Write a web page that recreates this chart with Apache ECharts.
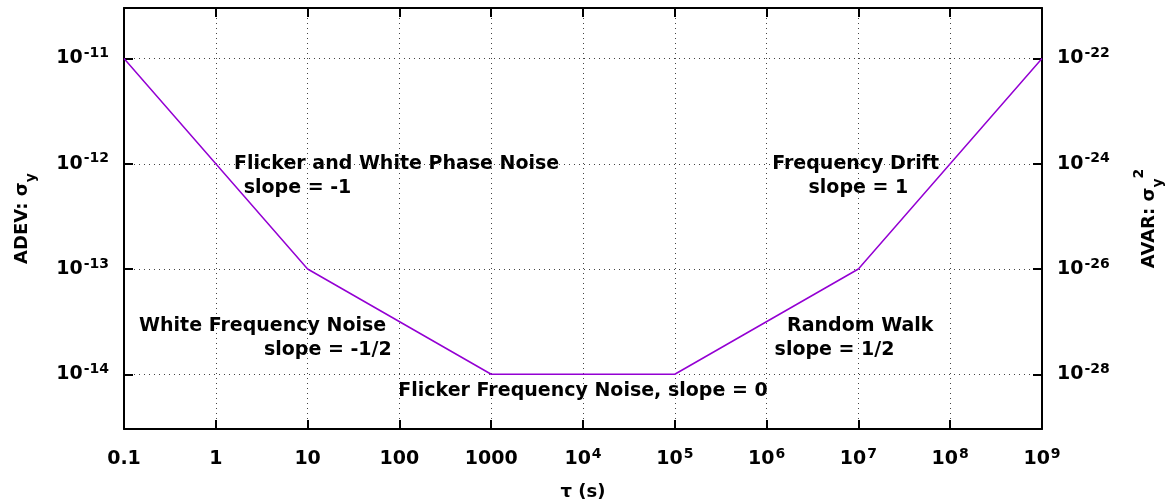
<!DOCTYPE html>
<html>
<head>
<meta charset="utf-8">
<script src="https://cdn.jsdelivr.net/npm/echarts@6/dist/echarts.min.js"></script>
<style>
  html, body { margin: 0; padding: 0; background: #fff; }
  #main { width: 1169px; height: 504px; }
</style>
</head>
<body>
<div id="main"></div>
<script>
// piecewise power-law ADEV curve
const tau = [0.1, 10, 1000, 1e5, 1e7, 1e9]
const adev = [1e-11, 1e-13, 1e-14, 1e-14, 1e-13, 1e-11]

// axis ranges (log scale)
const tauMin = 0.1
const tauMax = 1e9
const adevMin = Math.pow(10, -14.52)
const adevMax = Math.pow(10, -10.52)

// region annotations, centred at (tau, adev)
const annotText = [
  'Flicker and White Phase Noise', 'slope = -1',
  'White Frequency Noise', 'slope = -1/2',
  'Flicker Frequency Noise, slope = 0',
  'Frequency Drift', 'slope = 1',
  'Random Walk', 'slope = 1/2'
]
const annotTau = [
  Math.pow(10, 1.97), Math.pow(10, 0.89),
  Math.pow(10, 0.51), Math.pow(10, 1.22),
  Math.pow(10, 4.0),
  Math.pow(10, 6.97), Math.pow(10, 7.0),
  Math.pow(10, 7.02), Math.pow(10, 6.74)
]
const annotAdev = [
  Math.pow(10, -12.0), Math.pow(10, -12.23),
  Math.pow(10, -13.54), Math.pow(10, -13.77),
  Math.pow(10, -14.16),
  Math.pow(10, -12.0), Math.pow(10, -12.23),
  Math.pow(10, -13.54), Math.pow(10, -13.77)
]

const font = 'DejaVu Sans'
const supRich = {
  b: { fontFamily: font, fontSize: 19, fontWeight: 'bold', color: '#000', lineHeight: 24 },
  sup: { fontFamily: font, fontSize: 14, fontWeight: 'bold', color: '#000', verticalAlign: 'top', lineHeight: 14, padding: [0, 0, 0, 1] }
}

const isDecade = v => Math.abs(Math.log10(v) - Math.round(Math.log10(v))) < 0.01

const xLabel = v => {
  if (!isDecade(v)) return ''
  const e = Math.round(Math.log10(v))
  if (e < 0) return '{b|0.1}'
  if (e <= 3) return '{b|' + Math.pow(10, e) + '}'
  return '{b|10}{sup|' + e + '}'
}
const yLabel = mult => v => {
  if (!isDecade(v)) return ''
  const e = Math.round(Math.log10(v)) * mult
  return '{b|10}{sup|' + e + '}'
}

const gridLine = { show: true, lineStyle: { color: '#444', width: 1, type: [1, 4] } }
const frameLine = { show: true, onZero: false, lineStyle: { color: '#000', width: 2 } }
const tickStyle = { show: true, inside: true, length: 9, lineStyle: { color: '#000', width: 2 } }
const nameStyle = {
  fontFamily: font, fontSize: 18, fontWeight: 'bold', color: '#000',
  rich: {
    sub: { fontFamily: font, fontSize: 14, fontWeight: 'bold', color: '#000', verticalAlign: 'bottom', padding: [0, 0, -7, 0] },
    sup: { fontFamily: font, fontSize: 14, fontWeight: 'bold', color: '#000', verticalAlign: 'top', padding: [-8, 0, 0, 0] }
  }
}

const chart = echarts.init(document.getElementById('main'))
chart.setOption({
  animation: false,
  textStyle: { fontFamily: font },
  grid: { left: 124, right: 127, top: 8, bottom: 75, outerBoundsMode: 'none', containLabel: false },
  xAxis: [{
    type: 'log', logBase: 10, min: tauMin, max: tauMax, position: 'bottom',
    name: 'τ (s)', nameLocation: 'middle', nameGap: 54,
    nameTextStyle: nameStyle,
    axisLine: frameLine, axisTick: tickStyle, splitLine: gridLine,
    axisLabel: { margin: 18, formatter: xLabel, rich: supRich }
  }, {
    type: 'log', logBase: 10, min: tauMin, max: tauMax, position: 'top',
    axisLine: frameLine, axisTick: tickStyle, splitLine: { show: false },
    axisLabel: { show: false }
  }],
  yAxis: [{
    type: 'log', logBase: 10, min: adevMin, max: adevMax, position: 'left',
    name: 'ADEV: σ{sub|y}', nameLocation: 'middle', nameRotate: 90, nameGap: 93,
    nameTextStyle: nameStyle,
    axisLine: frameLine, axisTick: tickStyle, splitLine: gridLine,
    axisLabel: { margin: 15, formatter: yLabel(1), rich: supRich, showMinLabel: false, showMaxLabel: false }
  }, {
    type: 'log', logBase: 10, min: adevMin, max: adevMax, position: 'right',
    name: 'AVAR: σ{sub|y}{sup|2}', nameLocation: 'middle', nameRotate: 90, nameGap: 98,
    nameTextStyle: nameStyle,
    axisLine: frameLine, axisTick: tickStyle, splitLine: { show: false },
    axisLabel: { margin: 15, formatter: yLabel(2), rich: supRich, showMinLabel: false, showMaxLabel: false }
  }],
  series: [{
    type: 'line',
    data: tau.map((t, i) => [t, adev[i]]),
    showSymbol: false,
    lineStyle: { color: '#9400d3', width: 1.5 },
    z: 3
  }, {
    type: 'scatter',
    data: annotText.map((s, i) => ({ name: s, value: [annotTau[i], annotAdev[i]] })),
    symbolSize: 1,
    itemStyle: { color: 'rgba(0,0,0,0)', opacity: 1 },
    label: {
      show: true, position: 'inside', formatter: p => p.name, opacity: 1,
      fontFamily: font, fontSize: 19, fontWeight: 'bold', color: '#000'
    },
    z: 4
  }]
})
</script>
</body>
</html>
